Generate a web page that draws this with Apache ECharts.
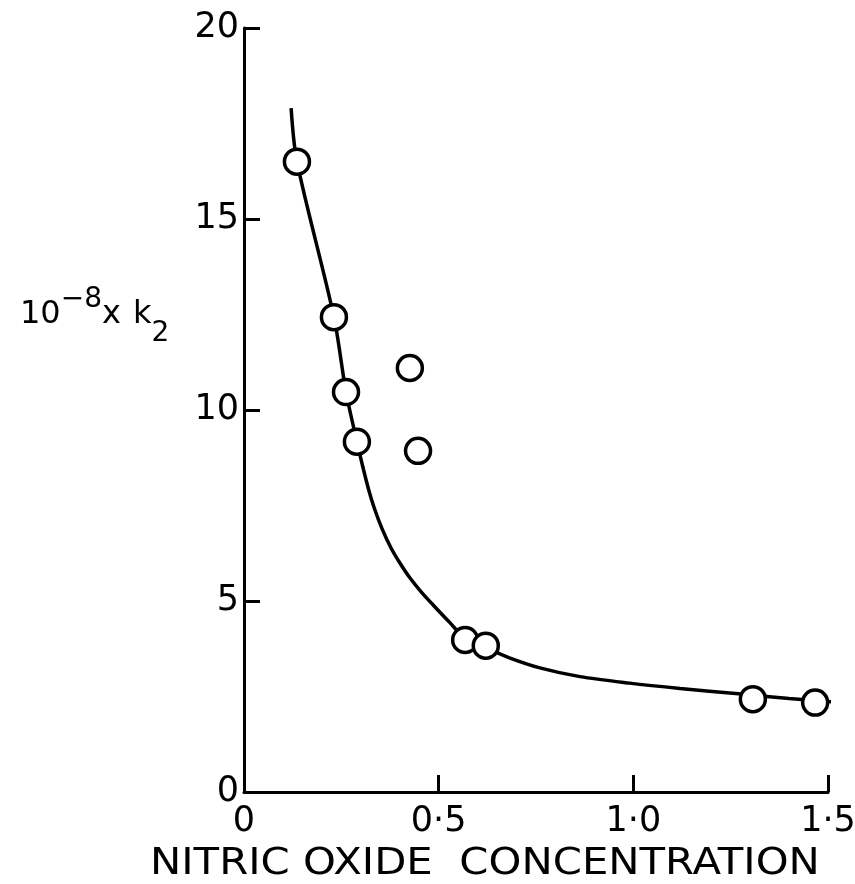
<!DOCTYPE html>
<html>
<head>
<meta charset="utf-8">
<script src="https://cdn.jsdelivr.net/npm/echarts@6/dist/echarts.min.js"></script>
<style>html,body{margin:0;padding:0;background:#fff}#c{width:855px;height:884px}</style>
</head>
<body>
<div id="c"></div>
<script>
// Tick labels
const xTickLabels = ['0', '0·5', '1·0', '1·5'];
const yTickLabels = ['0', '5', '10', '15', '20'];
// Measured points (nitric oxide concentration, 10^-8 x k2)
const pointX = [0.136, 0.231, 0.262, 0.290, 0.426, 0.447, 0.568, 0.621, 1.307, 1.467];
const pointY = [16.5, 12.43, 10.47, 9.17, 11.1, 8.93, 3.98, 3.83, 2.43, 2.34];
// Drawn curve
const curveX = [0.121, 0.136, 0.231, 0.262, 0.290, 0.305, 0.320, 0.335, 0.355, 0.378, 0.400, 0.425, 0.455, 0.490, 0.530, 0.568, 0.621, 0.680, 0.760, 0.863, 0.990, 1.120, 1.270, 1.400, 1.552];
const curveY = [17.9, 16.5, 12.43, 10.47, 9.17, 8.52, 7.92, 7.42, 6.88, 6.38, 6.0, 5.62, 5.24, 4.85, 4.42, 4.02, 3.78, 3.52, 3.25, 3.02, 2.85, 2.71, 2.57, 2.45, 2.33];

const font = 'DejaVu Sans';
const chart = echarts.init(document.getElementById('c'), null, {renderer: 'canvas'});
chart.setOption({
  backgroundColor: '#fff',
  animation: false,
  grid: {left: 244, top: 28, width: 584, height: 764, outerBoundsMode: 'none', containLabel: false},
  xAxis: {
    type: 'value', min: 0, max: 1.5, interval: 0.5,
    axisLine: {lineStyle: {color: '#000', width: 3}},
    axisTick: {inside: true, length: 17, lineStyle: {color: '#000', width: 3}},
    splitLine: {show: false},
    axisLabel: {
      color: '#000', fontFamily: font, fontSize: 35, margin: 12,
      formatter: v => xTickLabels[Math.round(v / 0.5)]
    }
  },
  yAxis: {
    type: 'value', min: 0, max: 20, interval: 5,
    axisLine: {lineStyle: {color: '#000', width: 3}},
    axisTick: {inside: true, length: 16, lineStyle: {color: '#000', width: 3}},
    splitLine: {show: false},
    axisLabel: {
      color: '#000', fontFamily: font, fontSize: 35, margin: 5,
      formatter: v => yTickLabels[Math.round(v / 5)]
    }
  },
  series: [
    {
      type: 'line', data: curveX.map((x, i) => [x, curveY[i]]),
      smooth: 0.3, showSymbol: false, clip: false, z: 2,
      lineStyle: {color: '#000', width: 3.5}
    },
    {
      type: 'scatter', data: pointX.map((x, i) => [x, pointY[i]]),
      symbol: 'circle', symbolSize: 25, z: 3,
      itemStyle: {color: '#fff', borderColor: '#000', borderWidth: 3.5, opacity: 1}
    }
  ],
  graphic: [
    {
      type: 'text', left: 150, top: 845, scaleX: 1.1,
      style: {text: 'NITRIC OXIDE  CONCENTRATION', fill: '#000', font: '38px "DejaVu Sans"'}
    },
    {
      type: 'text', left: 20, top: 282,
      style: {
        text: '{a|10}{s|−8}{a|x}{g| }{a|k}{b|2}',
        fill: '#000',
        rich: {
          a: {fontFamily: font, fontSize: 32, lineHeight: 66, verticalAlign: 'middle', fill: '#000'},
          s: {fontFamily: font, fontSize: 28, lineHeight: 66, verticalAlign: 'top', fill: '#000', padding: [4, 0, 0, 0]},
          g: {fontFamily: font, fontSize: 32, lineHeight: 66, width: 12},
          b: {fontFamily: font, fontSize: 28, lineHeight: 66, verticalAlign: 'bottom', fill: '#000', padding: [0, 0, 0, 0]}
        }
      }
    }
  ]
});
</script>
</body>
</html>
